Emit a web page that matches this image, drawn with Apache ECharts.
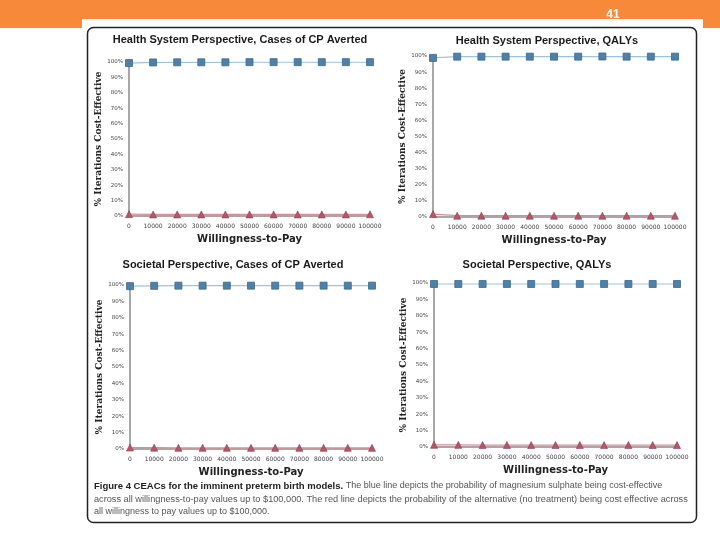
<!DOCTYPE html>
<html>
<head>
<meta charset="utf-8">
<script src="https://cdn.jsdelivr.net/npm/echarts@6/dist/echarts.min.js"></script>
<style>html,body{margin:0;padding:0;background:#fff;}#c{width:720px;height:540px;}</style>
</head>
<body>
<div id="c"></div>
<script>
// ---- data ----
var wtp = ['0','10000','20000','30000','40000','50000','60000','70000','80000','90000','100000'];
var yTicks = [0,10,20,30,40,50,60,70,80,90,100];
var panelTitles = [
  'Health System Perspective, Cases of CP Averted',
  'Health System Perspective, QALYs',
  'Societal Perspective, Cases of CP Averted',
  'Societal Perspective, QALYs'
];
var blueHSCP  = [99.3, 99.7, 99.8, 99.8, 99.8, 99.9, 99.9, 99.9, 99.9, 99.9, 99.9];
var redHSCP   = [1.2, 1.0, 1.0, 1.0, 1.0, 1.0, 1.0, 1.0, 1.0, 1.0, 1.1];
var blueHSQ   = [98.8, 99.6, 99.6, 99.6, 99.6, 99.6, 99.6, 99.7, 99.6, 99.6, 99.6];
var redHSQ    = [1.8, 0.8, 0.8, 0.8, 0.8, 0.8, 0.8, 0.8, 0.8, 0.8, 0.8];
var blueSCP   = [99.3, 99.5, 99.6, 99.6, 99.6, 99.6, 99.6, 99.6, 99.6, 99.6, 99.6];
var redSCP    = [0.9, 0.8, 0.7, 0.7, 0.7, 0.7, 0.7, 0.7, 0.7, 0.7, 0.7];
var blueSQ    = [99.4, 99.4, 99.4, 99.4, 99.4, 99.4, 99.4, 99.4, 99.4, 99.4, 99.4];
var redSQ     = [1.3, 1.3, 1.2, 1.2, 1.2, 1.2, 1.2, 1.2, 1.2, 1.2, 1.2];
var yAxisTitle = '% Iterations Cost-Effective';
var xAxisTitle = 'Willingness-to-Pay';
var pageNumber = '41';
var captionBold = 'Figure 4 CEACs for the imminent preterm birth models.';
var captionLines = [
  ' The blue line depicts the probability of magnesium sulphate being cost-effective',
  'across all willingness-to-pay values up to $100,000. The red line depicts the probability of the alternative (no treatment) being cost effective across',
  'all willingness to pay values up to $100,000.'
];

var blues = [blueHSCP, blueHSQ, blueSCP, blueSQ];
var reds = [redHSCP, redHSQ, redSCP, redSQ];

// ---- layout ----
var grids = [
  {left:129, top:62, width:241, height:154},
  {left:433, top:56, width:242, height:161},
  {left:130, top:285, width:242, height:164},
  {left:434, top:283, width:243, height:164}
];
var titlePos = [[240,34],[547,35],[233,259],[537,259]];
var yNameGap = [25, 23, 26, 26];

var chart = echarts.init(document.getElementById('c'), null, {renderer:'canvas'});
var titleFont = "'Liberation Sans Narrow','Liberation Sans',Arial,sans-serif";
var option = {
  animation:false,
  backgroundColor:'#fff',
  title: panelTitles.map(function(t,i){
    return {text:t, left:titlePos[i][0], top:titlePos[i][1], textAlign:'center', padding:0,
      textStyle:{fontSize:11, fontWeight:'bold', color:'#1a1a1a', fontFamily:titleFont}};
  }),
  grid: grids,
  xAxis: grids.map(function(g,i){
    return {type:'category', gridIndex:i, data:wtp, boundaryGap:false,
      name:xAxisTitle, nameLocation:'middle', nameGap:18,
      nameTextStyle:{fontSize:10, fontWeight:'bold', color:'#222', fontFamily:"'DejaVu Sans',sans-serif"},
      axisLine:{lineStyle:{color:'#8a8a8a', width:1.5}},
      axisTick:{show:false},
      axisLabel:{fontSize:6, color:'#444', margin:7, interval:0, fontFamily:"'DejaVu Sans',sans-serif"},
      splitLine:{show:false}};
  }),
  yAxis: grids.map(function(g,i){
    return {type:'value', gridIndex:i, min:yTicks[0], max:yTicks[yTicks.length-1], interval:yTicks[1]-yTicks[0],
      name:yAxisTitle, nameLocation:'middle', nameGap:yNameGap[i], nameRotate:90,
      nameTextStyle:{fontSize:9, fontWeight:'bold', color:'#222', fontFamily:"'DejaVu Serif',serif"},
      axisLine:{show:true, lineStyle:{color:'#8a8a8a', width:1.5}},
      axisTick:{show:false},
      axisLabel:{fontSize:5.5, color:'#444', margin:6, formatter:'{value}%', fontFamily:"'DejaVu Sans',sans-serif"},
      splitLine:{show:false}};
  }),
  series: []
};
for (var i=0;i<4;i++){
  option.series.push({type:'line', xAxisIndex:i, yAxisIndex:i, data:blues[i],
    symbol:'rect', symbolSize:7,
    lineStyle:{color:'#9ec3de', width:1.2},
    itemStyle:{color:'#4f81a8', borderColor:'#3b6a90', borderWidth:0.8}});
  option.series.push({type:'line', xAxisIndex:i, yAxisIndex:i, data:reds[i],
    symbol:'triangle', symbolSize:7,
    lineStyle:{color:'#e08a98', width:1.2},
    itemStyle:{color:'#b5566a', borderColor:'#8e3d4e', borderWidth:0.6}});
}
var capFont = "'Liberation Sans',Arial,sans-serif";
option.graphic = [
  {type:'rect', shape:{x:0,y:0,width:720,height:28}, style:{fill:'#f7893a'}, z:-10},
  {type:'rect', shape:{x:82,y:19,width:621,height:521}, style:{fill:'#ffffff'}, z:-9},
  {type:'text', x:613, y:15, style:{text:pageNumber, fill:'#ffffff', font:"bold 12px 'Liberation Sans',Arial", textAlign:'center', textVerticalAlign:'middle'}, z:10},
  {type:'rect', shape:{x:87.5,y:27.5,width:609,height:495,r:6}, style:{fill:'none', stroke:'#222', lineWidth:1.5}, z:-5},
  {type:'text', x:94, y:486, style:{
      text:'{b|'+captionBold+'}{r|'+captionLines[0]+'}',
      textVerticalAlign:'middle',
      rich:{b:{fontSize:9.5, fontWeight:'bold', fill:'#222', fontFamily:capFont},
            r:{fontSize:9, fill:'#555', fontFamily:capFont}}}, z:10},
  {type:'text', x:94, y:499, style:{text:captionLines[1], fill:'#555', font:"9.2px "+capFont, textVerticalAlign:'middle'}, z:10},
  {type:'text', x:94, y:512, style:{text:captionLines[2], fill:'#555', font:"9px "+capFont, textVerticalAlign:'middle'}, z:10}
];
chart.setOption(option);
</script>
</body>
</html>
